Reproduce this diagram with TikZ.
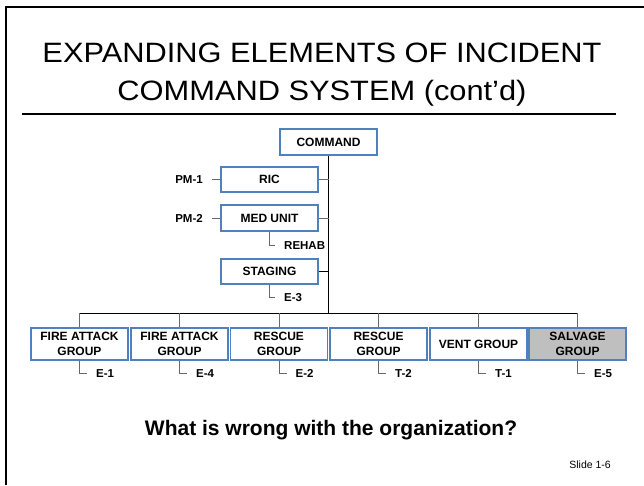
\documentclass[tikz,border=0pt]{standalone}
\usepackage{fontspec}
\setmainfont{Liberation Sans}
\definecolor{boxblue}{RGB}{79,129,189}
\definecolor{salvgray}{RGB}{191,191,191}
\definecolor{linkgray}{RGB}{105,105,105}
\tikzset{
  unit/.style={draw=boxblue, line width=1.4pt, fill=white, minimum width=97pt,
    minimum height=26pt, inner sep=0pt, align=center,
    font=\bfseries\fontsize{12}{15}\selectfont},
  grp/.style={unit, minimum height=32pt},
  lbl/.style={inner ysep=0pt, inner xsep=9pt, text height=8.5pt, text depth=0pt,
    font=\bfseries\fontsize{11.5}{12}\selectfont},
  trunk/.style={draw=black, line width=1pt},
  link/.style={draw=linkgray, line width=1pt},
  plain/.style={inner sep=0pt, anchor=base},
}
\begin{document}
\begin{tikzpicture}[x=1pt,y=-1pt]
\useasboundingbox (0,0) rectangle (644,485);
% slide frame and title rule
\draw[line width=2pt] (6,485) -- (6,7) -- (644,7);
\node[plain, font=\fontsize{28}{30}\selectfont] (t1) at (322,62)
  {\scalebox{1.1}[1]{EXPANDING ELEMENTS OF INCIDENT}};
\node[plain, font=\fontsize{28}{30}\selectfont] (t2) at (322,100)
  {\scalebox{1.1}[1]{COMMAND SYSTEM (cont’d)}};
\draw[line width=1.2pt] (22,114) -- (616,114);

% command staff
\node[unit] (cmd) at (328.5,142) {COMMAND};
\node[unit, minimum height=25pt] (ric) at (269.5,179.5) {RIC};
\node[unit] (med) at (269.5,218) {MED UNIT};
\node[unit, minimum height=25pt] (stg) at (269.5,271.5) {STAGING};
\coordinate (bus) at (329,313);

% groups
\node[grp] (g1) at (79.5,344) {FIRE ATTACK\\GROUP};
\node[grp] (g2) at (179.5,344) {FIRE ATTACK\\GROUP};
\node[grp] (g3) at (279,344) {RESCUE\\GROUP};
\node[grp] (g4) at (378.5,344) {RESCUE\\GROUP};
\node[grp] (g5) at (478.5,344) {VENT GROUP};
\node[grp, fill=salvgray] (g6) at (577.5,344) {SALVAGE\\GROUP};

% trunk and bus
\draw[trunk] (cmd.south) -- (cmd.south |- bus);
\draw[trunk] (g1.north |- bus) -- (g6.north |- bus);
\foreach \g in {g1,g2,g3,g4,g5,g6}
  \draw[link] (\g.north |- bus) -- (\g.north);
\draw[link] (ric.east) -- (ric.east -| cmd.south);
\draw[link] (med.east) -- (med.east -| cmd.south);
\draw[trunk] (stg.east) -- (stg.east -| cmd.south);

% side labels
\node[lbl, anchor=east] (pm1) at (212,179.5) {PM-1};
\node[lbl, anchor=east] (pm2) at (212,218) {PM-2};
\draw[link] (pm1.east) -- (ric.west);
\draw[link] (pm2.east) -- (med.west);
\node[lbl, anchor=west] (rehab) at (275,245) {REHAB};
\draw[link] (med.south) |- (rehab.west);
\node[lbl, anchor=west] (e3) at (275,297) {E-3};
\draw[link] (stg.south) |- (e3.west);

% group resources
\node[lbl, anchor=west] (e1) at (87,373) {E-1};
\node[lbl, anchor=west] (e4) at (187,373) {E-4};
\node[lbl, anchor=west] (e2) at (286.5,373) {E-2};
\node[lbl, anchor=west] (t2r) at (386,373) {T-2};
\node[lbl, anchor=west] (t1r) at (486,373) {T-1};
\node[lbl, anchor=west] (e5) at (585,373) {E-5};
\draw[link] (g1.south) |- (e1.west);
\draw[link] (g2.south) |- (e4.west);
\draw[link] (g3.south) |- (e2.west);
\draw[link] (g4.south) |- (t2r.west);
\draw[link] (g5.south) |- (t1r.west);
\draw[link] (g6.south) |- (e5.west);

% question and slide number
\node[plain, font=\bfseries\fontsize{21}{24}\selectfont] (q) at (331,435)
  {What is wrong with the organization?};
\node[plain, anchor=base east, font=\fontsize{10.5}{12}\selectfont] (slide) at (611,468)
  {Slide 1-6};
\end{tikzpicture}
\end{document}
